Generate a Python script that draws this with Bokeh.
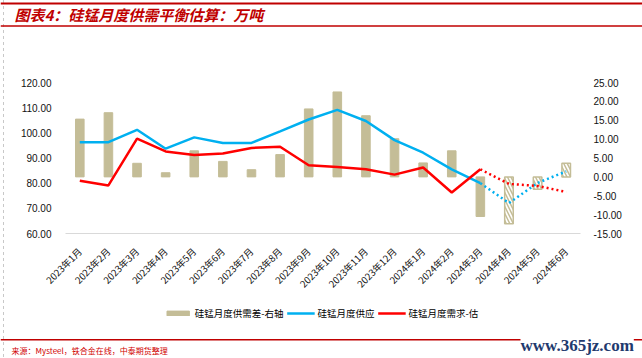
import math
from bokeh.plotting import figure
from bokeh.models import (Range1d, LinearAxis, FactorRange, Legend, LegendItem, Label, Span,
                          NumeralTickFormatter, FixedTicker)
from bokeh.layouts import column
from bokeh.embed import file_html
from bokeh.resources import INLINE

# ---------------- data ----------------
months = ["2023年1月", "2023年2月", "2023年3月", "2023年4月", "2023年5月", "2023年6月",
          "2023年7月", "2023年8月", "2023年9月", "2023年10月", "2023年11月", "2023年12月",
          "2024年1月", "2024年2月", "2024年3月", "2024年4月", "2024年5月", "2024年6月"]
gap = [15.3, 17.0, 3.6, 1.1, 6.9, 4.1, 1.9, 5.9, 18.0, 22.5, 16.2, 10.1,
       3.7, 6.9, -10.5, -12.4, -3.3, 3.6]          # 供需差, right axis
supply = [96.3, 96.3, 101.2, 93.7, 98.2, 96.0, 96.0, 100.6, 105.3, 109.1, 104.7, 97.1,
          92.1, 85.5, 80.0, 72.1, 80.1, 84.7]        # 供应, left axis
demand = [81.0, 79.1, 97.7, 92.6, 91.2, 91.8, 94.0, 94.5, 87.1, 86.4, 85.5, 83.4,
          86.2, 76.3, 85.5, 79.7, 78.9, 76.5]        # 需求-估, left axis
n_actual = 15                                        # first 15 months actual, rest forecast
left_ticks = [60, 70, 80, 90, 100, 110, 120]
right_ticks = [-15, -10, -5, 0, 5, 10, 15, 20, 25]
legend_labels = ["硅锰月度供需差-右轴", "硅锰月度供应", "硅锰月度需求-估"]

title_text = "图表4：硅锰月度供需平衡估算：万吨"
source_text = "来源：Mysteel，铁合金在线，中泰期货整理"
watermark = "www.365jz.com"

TAN = "#C4BD97"
BLUE = "#00B0F0"
RED = "#FF0000"
DARKRED = "#C00000"

W = 642
TOP_H, FIG_H, LEG_H, BOT_H = 28, 272, 26, 32


def strip(h):
    """A blank figure whose data units are pixels (y measured downward)."""
    f = figure(width=W, height=h, x_range=Range1d(0, W), y_range=Range1d(h, 0),
               x_axis_type=None, y_axis_type=None, output_backend="svg",
               toolbar_location=None, min_border=0, frame_align=False)
    f.outline_line_color = None
    f.grid.visible = False
    f.background_fill_alpha = 0
    f.border_fill_alpha = 0
    return f


# ---------------- header ----------------
top = strip(TOP_H)
top.add_layout(Span(location=3, dimension="width", line_color=DARKRED, line_width=2))
top.add_layout(Span(location=25.5, dimension="width", line_color=DARKRED, line_width=1.5))
top.add_layout(Label(x=14, y=14, text=title_text, text_font="Noto Sans CJK SC",
                     text_font_size="15px", text_font_style="bold italic",
                     text_color=DARKRED, text_baseline="middle", text_align="left"))

# ---------------- chart ----------------
p = figure(width=W, height=FIG_H, x_range=FactorRange(factors=months, range_padding=0),
           y_range=Range1d(left_ticks[0], left_ticks[-1]),
           output_backend="svg", toolbar_location=None, frame_align=False,
           min_border_left=65, min_border_right=62, min_border_top=54, min_border_bottom=67)
p.extra_y_ranges = {"right": Range1d(right_ticks[0], right_ticks[-1])}
p.outline_line_color = None
p.xgrid.visible = False
p.ygrid.visible = False
p.background_fill_alpha = 0
p.border_fill_alpha = 0

p.xaxis.axis_line_color = "#D9D9D9"
p.xaxis.major_tick_line_color = None
p.xaxis.minor_tick_line_color = None
p.xaxis.major_label_orientation = math.pi / 4
p.xaxis.major_label_text_font = "Noto Sans CJK SC"
p.xaxis.major_label_text_font_size = "9.5px"
p.xaxis.major_label_text_color = "#111111"
p.xaxis.major_label_standoff = 10

p.yaxis.ticker = FixedTicker(ticks=left_ticks)
p.yaxis.formatter = NumeralTickFormatter(format="0.00")
p.yaxis.axis_line_color = None
p.yaxis.major_tick_line_color = None
p.yaxis.minor_tick_line_color = None
p.yaxis.major_label_standoff = 8
p.yaxis.major_label_text_font = "Liberation Sans"
p.yaxis.major_label_text_font_size = "10px"
p.yaxis.major_label_text_color = "#111111"

ra = LinearAxis(y_range_name="right", ticker=FixedTicker(ticks=right_ticks),
                formatter=NumeralTickFormatter(format="0.00"))
ra.axis_line_color = None
ra.major_tick_line_color = None
ra.minor_tick_line_color = None
ra.major_label_standoff = 7
ra.major_label_text_font = "Liberation Sans"
ra.major_label_text_font_size = "10px"
ra.major_label_text_color = "#111111"
p.add_layout(ra, "right")

p.vbar(x=months[:n_actual], top=gap[:n_actual], bottom=0, width=0.3,
       y_range_name="right", fill_color=TAN, line_color=TAN)
p.vbar(x=months[n_actual:], top=gap[n_actual:], bottom=0, width=0.3,
       y_range_name="right", fill_color="white", line_color=TAN, line_width=1.5,
       hatch_pattern="left_diagonal_line", hatch_color=TAN, hatch_weight=1.5, hatch_scale=7)

p.line(months[:n_actual], supply[:n_actual], line_color=BLUE, line_width=2.5)
p.line(months[n_actual - 1:], supply[n_actual - 1:], line_color=BLUE, line_width=2.5,
       line_dash="2 3")
p.line(months[:n_actual], demand[:n_actual], line_color=RED, line_width=2.5)
p.line(months[n_actual - 1:], demand[n_actual - 1:], line_color=RED, line_width=2.5,
       line_dash="2 3")

# ---------------- legend strip (same series, drawn outside its visible range) ----------------
pl = figure(width=W, height=LEG_H, x_range=FactorRange(factors=months), y_range=Range1d(1000, 1001),
            x_axis_type=None, y_axis_type=None, output_backend="svg", toolbar_location=None,
            min_border=0, frame_align=False)
pl.outline_line_color = None
pl.grid.visible = False
pl.background_fill_alpha = 0
pl.border_fill_alpha = 0
lb = pl.vbar(x=months, top=gap, bottom=0, width=0.3, fill_color=TAN, line_color=TAN)
lsu = pl.line(months, supply, line_color=BLUE, line_width=2.5)
lde = pl.line(months, demand, line_color=RED, line_width=2.5)
legend = Legend(items=[LegendItem(label=legend_labels[0], renderers=[lb]),
                       LegendItem(label=legend_labels[1], renderers=[lsu]),
                       LegendItem(label=legend_labels[2], renderers=[lde])],
                orientation="horizontal", location="center",
                padding=0, margin=0, spacing=3, label_standoff=3,
                glyph_width=28, glyph_height=6, label_height=10,
                label_text_font="Noto Sans CJK SC", label_text_font_size="9.5px",
                label_text_color="#000000",
                border_line_color=None, background_fill_alpha=0)
pl.add_layout(legend)

# ---------------- footer ----------------
bot = strip(BOT_H)
bot.add_layout(Span(location=13.3, dimension="width", line_color=DARKRED, line_width=1.5))
bot.add_layout(Label(x=11, y=24, text=source_text, text_font="Noto Sans CJK SC",
                     text_font_size="8px", text_color="#D00000",
                     text_baseline="middle", text_align="left"))
bot.add_layout(Label(x=520, y=19, text=watermark, text_font="Liberation Serif",
                     text_font_size="17px", text_font_style="bold", text_color="#1F3A6E",
                     text_baseline="middle", text_align="left",
                     background_fill_color="white", background_fill_alpha=1))

layout = column(top, p, pl, bot, spacing=0, styles={
    "background-color": "white",
    "background-image": "repeating-linear-gradient(to bottom, #C8C8C8 0px, #C8C8C8 3px, transparent 3px, transparent 6px)",
    "background-size": "1px 100%",
    "background-repeat": "no-repeat",
    "background-position": "3px 0px",
})

open("out.html", "w").write(file_html(layout, INLINE))
